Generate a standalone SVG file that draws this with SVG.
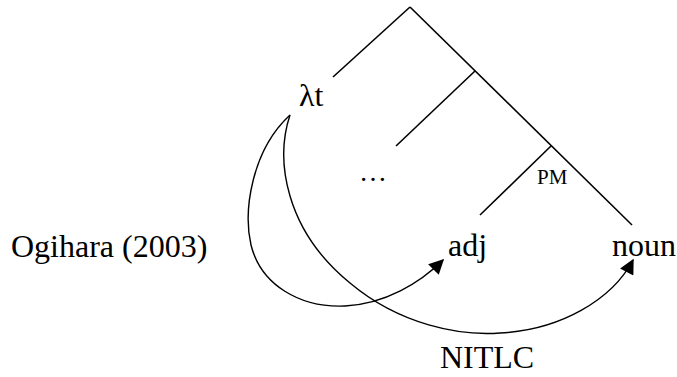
<svg xmlns="http://www.w3.org/2000/svg" width="677" height="377" viewBox="0 0 677 377">
<style>
  .t { font-family: "Liberation Serif", "Times New Roman", serif; fill: #000; }
  .big { font-size: 32px; }
  .br { stroke: #000; stroke-width: 1.6; fill: none; stroke-linecap: butt; }
  .arc { stroke: #000; stroke-width: 1.4; fill: none; }
</style>
<defs>
  <marker id="ah" viewBox="0 0 10 10" refX="9" refY="5" markerWidth="20" markerHeight="15" markerUnits="userSpaceOnUse" orient="auto">
    <path d="M0,0 L10,5 L0,10 Z" fill="#000"/>
  </marker>
</defs>
<rect width="677" height="377" fill="#fff"/>
<g id="tree">
  <line class="br" x1="410" y1="7" x2="333" y2="77"/>
  <line class="br" x1="410" y1="7" x2="632" y2="225"/>
  <line class="br" x1="475" y1="71" x2="396" y2="146"/>
  <line class="br" x1="551" y1="146" x2="480" y2="215"/>
</g>
<g id="node-lambda"><text class="t big" x="299" y="106">λt</text></g>
<g id="node-dots"><text class="t" font-size="28" x="373" y="181" text-anchor="middle">…</text></g>
<g id="node-pm"><text class="t" font-size="21" x="537" y="184">PM</text></g>
<g id="node-adj"><text class="t big" x="448" y="256">adj</text></g>
<g id="node-noun"><text class="t big" x="612" y="256">noun</text></g>
<g id="node-ogihara"><text class="t big" x="11" y="257">Ogihara (2003)</text></g>
<g id="node-nitlc"><text class="t big" x="440" y="368">NITLC</text></g>
<g id="connectors">
  <path class="arc" marker-end="url(#ah)" d="M290,115 C252,150 243,210 251,245 C261,285 300,308 345,306 C385,304 420,283 443,260"/>
  <path class="arc" marker-end="url(#ah)" d="M290,115 C275,160 285,230 350,283 C400,325 460,336 500,333 C560,330 612,300 633,260"/>
</g>
</svg>
